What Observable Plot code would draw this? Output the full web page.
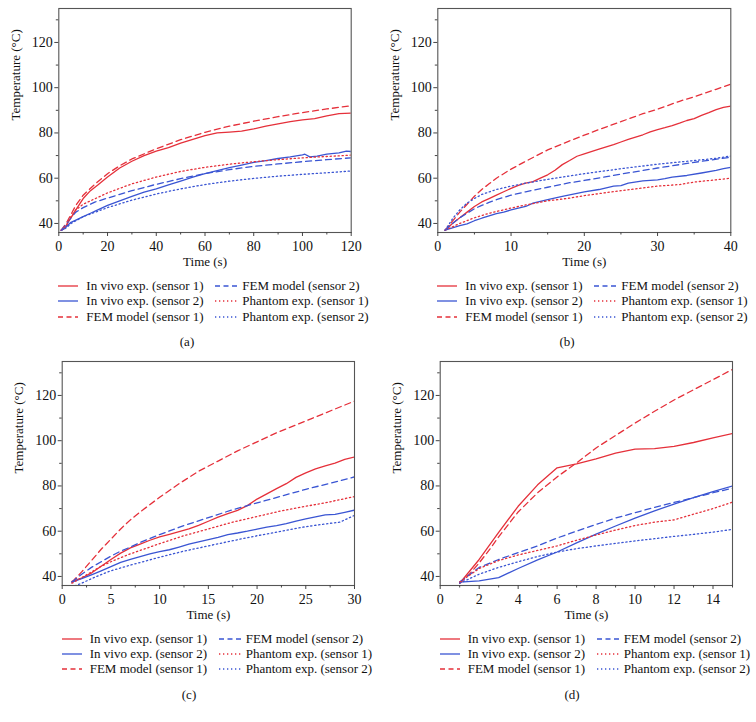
<!DOCTYPE html>
<html><head><meta charset="utf-8">
<script src="https://cdn.jsdelivr.net/npm/d3@7"></script>
<script src="https://cdn.jsdelivr.net/npm/@observablehq/plot@0.6"></script>
<style>
body{margin:0;background:#fff;font-family:"Liberation Serif",serif;color:#111;}
svg text{font-family:"Liberation Serif",serif !important;}
#wrap{position:relative;width:756px;height:722px;overflow:hidden;}
.cell{position:absolute;}
.leg{position:absolute;font-size:13px;line-height:15.3px;white-space:nowrap;font-family:"Liberation Serif",serif;}
.item{position:absolute;height:15.3px;}
.item svg{position:absolute;left:0;top:3px;}
.item span{position:absolute;}
.sub{position:absolute;font-size:13px;transform:translate(-50%,-50%);font-family:"Liberation Serif",serif;}
</style></head><body><div id="wrap"></div>
<script>
// ---------- data ----------
const seriesNames = ["In vivo exp. (sensor 1)", "In vivo exp. (sensor 2)", "FEM model (sensor 1)",
  "FEM model (sensor 2)", "Phantom exp. (sensor 1)", "Phantom exp. (sensor 2)"];
const panelLabels = ["(a)", "(b)", "(c)", "(d)"];
const yMajorTicks = [40, 60, 80, 100, 120];
const yMinorTicks = [50, 70, 90, 110, 130];
const xMajorTicks = [[0,20,40,60,80,100,120],[0,10,20,30,40],[0,5,10,15,20,25,30],[0,2,4,6,8,10,12,14]];
const xMinorTicks = [[10,30,50,70,90,110],[5,15,25,35],[2.5,7.5,12.5,17.5,22.5,27.5],[1,3,5,7,9,11,13,15]];
const xDomains = [[0,120],[0,40],[0,30],[0,15]];

// panel (a)
const aInVivo1 = [[1,37],[2,37.5],[3,38.5],[4,41],[5,42.5],[7,46],[10,51],[13,54.5],[16,57],[20,60.5],[25,64.5],[30,67.5],[35,70],[40,72],[45,73.5],[50,75.5],[55,77.2],[60,78.8],[65,80],[70,80.4],[75,80.8],[80,81.8],[85,83],[90,84],[95,85],[100,85.8],[105,86.3],[110,87.5],[115,88.5],[120,88.8]];
const aInVivo2 = [[1,37],[2,37.5],[3,38.5],[5,40.5],[7,41.5],[10,43],[13,44.5],[16,46],[20,48],[25,50],[30,52],[35,53.8],[40,55.3],[45,57],[50,58.7],[55,60.5],[60,62],[65,63.3],[70,64.7],[75,65.8],[80,67],[85,67.8],[90,68.7],[95,69.4],[100,70.3],[101,70.6],[103,69.4],[106,69.8],[110,70.6],[115,71.2],[118,72],[120,71.8]];
const aFem1 = [[1,37],[3,40],[5,44],[7,48],[10,52.5],[15,57.5],[20,62],[25,65.5],[30,68.5],[40,73],[50,77],[60,80.3],[70,83],[80,85.2],[90,87.2],[100,89],[110,90.6],[120,92]];
const aFem2 = [[1,37],[3,39.5],[5,42.5],[7,45],[10,47],[15,49.5],[20,51.2],[30,54.5],[40,57.3],[50,59.8],[60,62],[70,63.8],[80,65.2],[90,66.3],[100,67.3],[110,68.2],[120,69]];
const aPhantom1 = [[1,37],[3,39],[5,43],[7,46],[10,48.5],[15,51],[20,53.5],[30,57.5],[40,60.5],[50,63],[60,64.8],[70,66.2],[80,67.3],[90,68.2],[100,69],[110,69.6],[120,70.2]];
const aPhantom2 = [[1,37],[3,38],[5,40],[10,43],[15,45],[20,47],[30,50.3],[40,53],[50,55.3],[60,57.2],[70,58.7],[80,59.9],[90,60.9],[100,61.7],[110,62.4],[120,63.2]];

// panel (b)
const bInVivo1 = [[1,37],[2,40],[3,42.5],[4,45],[5,47.5],[6,49.5],[7,51],[8,52.5],[9,54],[10,55.5],[11,56.8],[12,57.8],[13,58.5],[14,60],[15,61.5],[16,63.5],[17,66],[18,67.8],[19,69.7],[20,70.8],[22,72.8],[24,74.8],[25,76],[26,77.2],[28,79.2],[29,80.5],[30,81.5],[31,82.3],[32,83.2],[33,84.3],[34,85.5],[35,86.3],[36,87.8],[37,89],[38,90.3],[39,91.3],[40,91.9]];
const bInVivo2 = [[1,37],[2,38],[3,39],[4,39.8],[5,41.2],[6,42.3],[7,43.3],[8,44.3],[9,45],[10,46],[11,46.8],[12,47.5],[13,49],[14,49.8],[15,50.5],[17,52],[19,53.3],[20,54],[22,55],[24,56.5],[25,56.7],[26,57.8],[28,58.8],[30,59.3],[31,59.8],[32,60.5],[34,61.2],[36,62.3],[38,63.5],[39,64.2],[40,64.8]];
const bFem1 = [[1,37],[2,41],[3,45],[4,48.5],[5,52],[6,55],[7,57.5],[8,60],[10,64],[12,67.5],[15,72.5],[18,76.5],[20,79],[22,81.5],[25,85],[28,88.5],[30,90.5],[33,94],[35,96],[38,99.3],[40,101.5]];
const bFem2 = [[1,37],[2,40],[3,42.5],[4,44.5],[5,46.5],[6,48],[7,49.3],[8,50.5],[10,52.5],[12,54],[15,56],[18,58],[20,59],[25,61.8],[30,64.5],[35,67],[40,69.3]];
const bPhantom1 = [[1,37],[2,38.5],[3,40],[5,42.5],[7,44.5],[10,46.8],[12,48.2],[15,50],[18,51.2],[20,52.3],[25,54.5],[30,56.5],[33,57.2],[35,58.3],[38,59.3],[40,60]];
const bPhantom2 = [[1,37],[2,42],[3,46],[4,49],[5,51],[6,52.8],[8,55],[10,56.5],[12,57.8],[15,59.5],[20,62],[25,64.2],[30,66.2],[35,67.8],[38,68.8],[40,69.8]];

// panel (c)
const cInVivo1 = [[1,37.8],[2,39.3],[3,41.5],[4,44.5],[5,47.5],[6,50.3],[7,52.6],[8,54.3],[9,56],[10,57.5],[11,58.6],[12,59.8],[13,61],[14,62.6],[15,64.4],[16,66.2],[17,67.8],[18,69.2],[19,71.3],[20,74.2],[21,76.5],[22,78.8],[23,81],[24,83.8],[25,85.8],[26,87.5],[27,88.9],[28,90.1],[29,91.7],[30,92.8]];
const cInVivo2 = [[1,37.5],[2,39],[3,40.7],[4,42.5],[5,44.3],[6,46.2],[7,47.5],[8,48.8],[9,50],[10,51],[11,51.8],[12,53],[13,54.3],[14,55.3],[15,56.3],[16,57.3],[17,58.5],[18,59.2],[19,60],[20,60.9],[21,61.8],[22,62.5],[23,63.3],[24,64.5],[25,65.4],[26,66.3],[27,67.2],[28,67.4],[29,68.3],[30,69.3]];
const cFem1 = [[1,37.5],[2,42],[3,47],[4,52],[5,56.5],[6,61],[7,65],[8,68.5],[10,75],[12,81],[14,86.5],[16,91],[18,95.5],[20,99.5],[22,103.5],[24,107],[26,110.5],[28,114],[30,117.5]];
const cFem2 = [[1,37.5],[2,41],[3,44],[4,46.5],[5,49],[6,51.2],[7,53],[8,55],[10,58.5],[12.5,62.5],[15,66],[17.5,69.5],[20,72.5],[22.5,75.5],[25,78.5],[27.5,81.2],[30,84]];
const cPhantom1 = [[1,37],[2,39.5],[3,42],[4,44.5],[5,46.5],[7,50],[10,54.5],[12.5,58],[15,61],[17.5,64],[20,66.5],[22.5,69],[25,71],[27.5,73],[30,75.3]];
const cPhantom2 = [[1.3,35.8],[2,37],[3,39],[4,40.8],[5,42.5],[7,45],[10,48.5],[12.5,51.2],[15,53.5],[17.5,55.8],[20,58],[22.5,60],[25,62],[27.5,63.5],[28.5,64],[29.5,66],[30,67]];

// panel (d)
const dInVivo1 = [[1,37],[2,47.5],[3,59.5],[4,71],[5,80.5],[6,88],[7,89.8],[8,92],[9,94.5],[10,96.3],[11,96.5],[12,97.5],[13,99.2],[14,101.2],[15,103.2]];
const dInVivo2 = [[1,37.5],[2,38],[3,39.5],[4,43.5],[5,47.3],[6,50.8],[7,54.8],[8,58.7],[9,62.3],[10,65.8],[11,69],[12,72],[13,74.8],[14,77.5],[15,80]];
const dFem1 = [[1,37],[1.5,41],[2,46],[2.5,51.5],[3,57.5],[4,68.5],[5,77],[6,84],[7,90.2],[8,96.8],[9,102.3],[10,107.8],[11,113],[12,118],[13,122.5],[14,127],[15,131.5]];
const dFem2 = [[1,37.5],[2,44],[3,47.5],[4,50.5],[5,53.5],[6,57],[7,60],[8,63],[9,65.8],[10,68.2],[11,70.5],[12,72.7],[13,74.8],[14,77],[15,79]];
const dPhantom1 = [[1,37.5],[2,43.5],[3,47],[4,49.5],[5,51.5],[6,53.5],[7,56],[8,58.3],[9,60.5],[10,62.5],[11,64],[12,65],[13,67.5],[14,70],[15,72.8]];
const dPhantom2 = [[1,37],[2,41],[3,44],[4,46.5],[5,48.8],[6,50.8],[7,52.3],[8,53.5],[9,54.6],[10,55.7],[11,56.7],[12,57.7],[13,58.6],[14,59.6],[15,60.8]];

// ---------- styles / layout ----------
const RED = "#e5303a", BLUE = "#3a55d3";
const seriesColors = [RED, BLUE, RED, BLUE, RED, BLUE];
const seriesDash = [null, null, "6,4", "6,4", "1.3,2.7", "1.3,2.7"];
const seriesWidth = [1.3, 1.3, 1.3, 1.3, 1.3, 1.3];

const panels = [
  {series: [aInVivo1, aInVivo2, aFem1, aFem2, aPhantom1, aPhantom2], cx: 0, cy: 0, left: 58.3, fw: 292.4, subX: 187},
  {series: [bInVivo1, bInVivo2, bFem1, bFem2, bPhantom1, bPhantom2], cx: 378, cy: 0, left: 59.3, fw: 293, subX: 567},
  {series: [cInVivo1, cInVivo2, cFem1, cFem2, cPhantom1, cPhantom2], cx: 0, cy: 352.6, left: 61.7, fw: 292.3, subX: 189},
  {series: [dInVivo1, dInVivo2, dFem1, dFem2, dPhantom1, dPhantom2], cx: 378, cy: 352.6, left: 61.7, fw: 292.3, subX: 572}
];
const MT = 8, FH = 224, MB = 42, H = MT + FH + MB;
const wrap = document.getElementById("wrap");
const FONT = '"Liberation Serif", serif';

panels.forEach((p, k) => {
  const lines = p.series.map((pts, i) => Plot.line(pts, {
    x: d => d[0], y: d => d[1], stroke: seriesColors[i],
    strokeDasharray: seriesDash[i], strokeWidth: seriesWidth[i], clip: true
  }));
  const chart = Plot.plot({
    width: 378, height: H,
    marginLeft: p.left, marginRight: 378 - p.left - p.fw, marginTop: MT, marginBottom: MB,
    style: {fontFamily: FONT, fontSize: "14px", color: "#111", background: "transparent"},
    x: {domain: xDomains[k]},
    y: {domain: [36, 135]},
    marks: [
      ...lines,
      Plot.frame({stroke: "#555", strokeWidth: 1.1}),
      Plot.axisX({ticks: xMajorTicks[k], tickSize: 4, tickPadding: 5, label: null, stroke: "#444", fill: "#111", fontSize: 14}),
      Plot.axisX({ticks: xMinorTicks[k], tickSize: 2.5, tickFormat: () => "", label: null, stroke: "#444"}),
      Plot.axisY({ticks: yMajorTicks, tickSize: 4, tickPadding: 2, label: null, stroke: "#444", fill: "#111", fontSize: 14}),
      Plot.axisY({ticks: yMinorTicks, tickSize: 2.5, tickFormat: () => "", label: null, stroke: "#444"}),
      Plot.text(["Time (s)"], {frameAnchor: "bottom", dy: 33, fontSize: 13, fill: "#111"}),
      Plot.text(["Temperature (°C)"], {frameAnchor: "left", dx: -43, rotate: -90, fontSize: 13, fill: "#111"})
    ]
  });
  const cell = document.createElement("div");
  cell.className = "cell";
  cell.style.left = p.cx + "px";
  cell.style.top = p.cy + "px";
  cell.appendChild(chart);
  wrap.appendChild(cell);

  // legend
  const frameBottom = p.cy + MT + FH;
  const leg = document.createElement("div");
  leg.className = "leg";
  leg.style.left = (p.cx + p.left) + "px";
  leg.style.top = (frameBottom + 46) + "px";
  seriesNames.forEach((name, i) => {
    const col = i < 3 ? 0 : 1, row = i % 3;
    const it = document.createElement("div");
    it.className = "item";
    it.style.left = (col === 0 ? 0 : 157) + "px";
    it.style.top = (row * 15.3) + "px";
    const lw = col === 0 ? 20 : 22;
    const dash = seriesDash[i] ? `stroke-dasharray="${i < 4 ? "5,3.5" : "1.3,2.7"}"` : "";
    it.innerHTML = `<svg width="${lw}" height="10"><line x1="0" x2="${lw}" y1="5" y2="5" stroke="${seriesColors[i]}" stroke-width="1.3" ${dash}/></svg><span style="left:${col === 0 ? 28 : 27}px">${name}</span>`;
    leg.appendChild(it);
  });
  wrap.appendChild(leg);

  const sub = document.createElement("div");
  sub.className = "sub";
  sub.style.left = p.subX + "px";
  sub.style.top = (frameBottom + 110) + "px";
  sub.textContent = panelLabels[k];
  wrap.appendChild(sub);
});
</script></body></html>
